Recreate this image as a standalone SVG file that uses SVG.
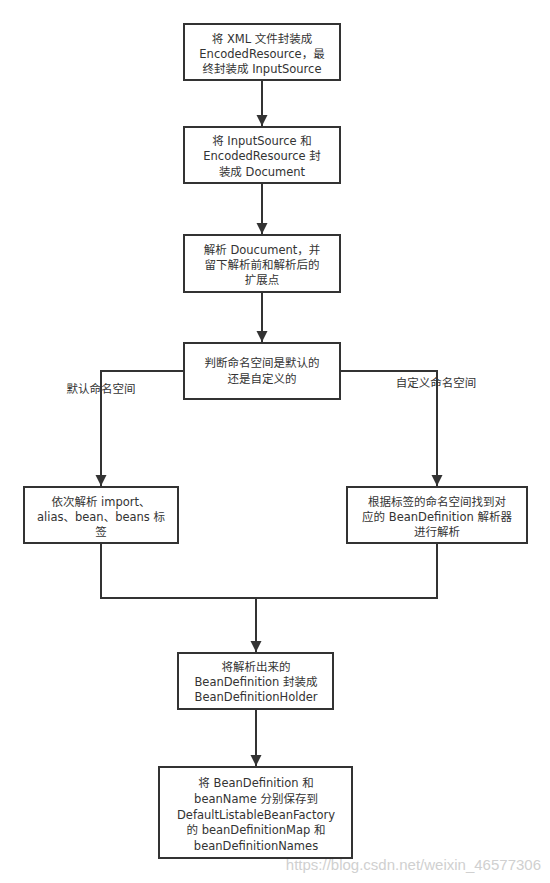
<svg xmlns="http://www.w3.org/2000/svg" width="550" height="883" viewBox="0 0 550 883">
<defs>
<style>
.box{fill:#fff;stroke:#333;stroke-width:2}
.t{font-family:"DejaVu Sans","Noto Sans CJK SC",sans-serif;font-size:11.5px;fill:#333;text-anchor:middle}
.e{fill:none;stroke:#333;stroke-width:2}
.wm{font-family:"Liberation Sans",Arial,sans-serif;font-size:15px;fill:#d0d0d0;text-anchor:end}
</style>
<marker id="arr" markerUnits="userSpaceOnUse" markerWidth="12" markerHeight="12" refX="11" refY="5.5" orient="auto">
<path d="M0,0 L11,5.5 L0,11 Z" fill="#333"/>
</marker>
</defs>
<rect width="550" height="883" fill="#fff"/>
<g id="connectors">
<path class="e" d="M262,80 V126" marker-end="url(#arr)"/>
<path class="e" d="M262,183 V234" marker-end="url(#arr)"/>
<path class="e" d="M262,292 V342" marker-end="url(#arr)"/>
<path class="e" d="M184,371 H101 V486" marker-end="url(#arr)"/>
<path class="e" d="M340,371 H437 V486" marker-end="url(#arr)"/>
<path class="e" d="M101,543 V598 H437 V543"/>
<path class="e" d="M256,598 V652" marker-end="url(#arr)"/>
<path class="e" d="M256,709 V766" marker-end="url(#arr)"/>
<text class="t" x="101" y="393">默认命名空间</text>
<text class="t" x="436" y="387">自定义命名空间</text>
</g>
<g id="n1">
<rect class="box" x="184" y="24" width="156" height="56"/>
<text class="t" x="262" y="43">将 XML 文件封装成</text>
<text class="t" x="262" y="58">EncodedResource，最</text>
<text class="t" x="262" y="73">终封装成 InputSource</text>
</g>
<g id="n2">
<rect class="box" x="184" y="127" width="156" height="56"/>
<text class="t" x="262" y="145">将 InputSource  和</text>
<text class="t" x="262" y="160">EncodedResource 封</text>
<text class="t" x="262" y="176">装成 Document</text>
</g>
<g id="n3">
<rect class="box" x="184" y="235" width="156" height="57"/>
<text class="t" x="262" y="254">解析 Doucument，并</text>
<text class="t" x="262" y="269">留下解析前和解析后的</text>
<text class="t" x="262" y="284">扩展点</text>
</g>
<g id="n4">
<rect class="box" x="184" y="343" width="156" height="56"/>
<text class="t" x="262" y="367">判断命名空间是默认的</text>
<text class="t" x="262" y="383">还是自定义的</text>
</g>
<g id="n5">
<rect class="box" x="24" y="487" width="154" height="56"/>
<text class="t" x="101" y="506">依次解析 import、</text>
<text class="t" x="101" y="521">alias、bean、beans 标</text>
<text class="t" x="101" y="536">签</text>
</g>
<g id="n6">
<rect class="box" x="347" y="487" width="180" height="56"/>
<text class="t" x="437" y="506">根据标签的命名空间找到对</text>
<text class="t" x="437" y="521">应的 BeanDefinition 解析器</text>
<text class="t" x="437" y="536">进行解析</text>
</g>
<g id="n7">
<rect class="box" x="178" y="653" width="155" height="56"/>
<text class="t" x="256" y="671">将解析出来的</text>
<text class="t" x="256" y="686">BeanDefinition 封装成</text>
<text class="t" x="256" y="701">BeanDefinitionHolder</text>
</g>
<g id="n8">
<rect class="box" x="159" y="767" width="193" height="91"/>
<text class="t" x="256" y="787">将 BeanDefinition 和</text>
<text class="t" x="256" y="803">beanName 分别保存到</text>
<text class="t" x="256" y="819">DefaultListableBeanFactory</text>
<text class="t" x="256" y="834">的 beanDefinitionMap 和</text>
<text class="t" x="256" y="850">beanDefinitionNames</text>
</g>
<text class="wm" x="541" y="870">https://blog.csdn.net/weixin_46577306</text>
</svg>
